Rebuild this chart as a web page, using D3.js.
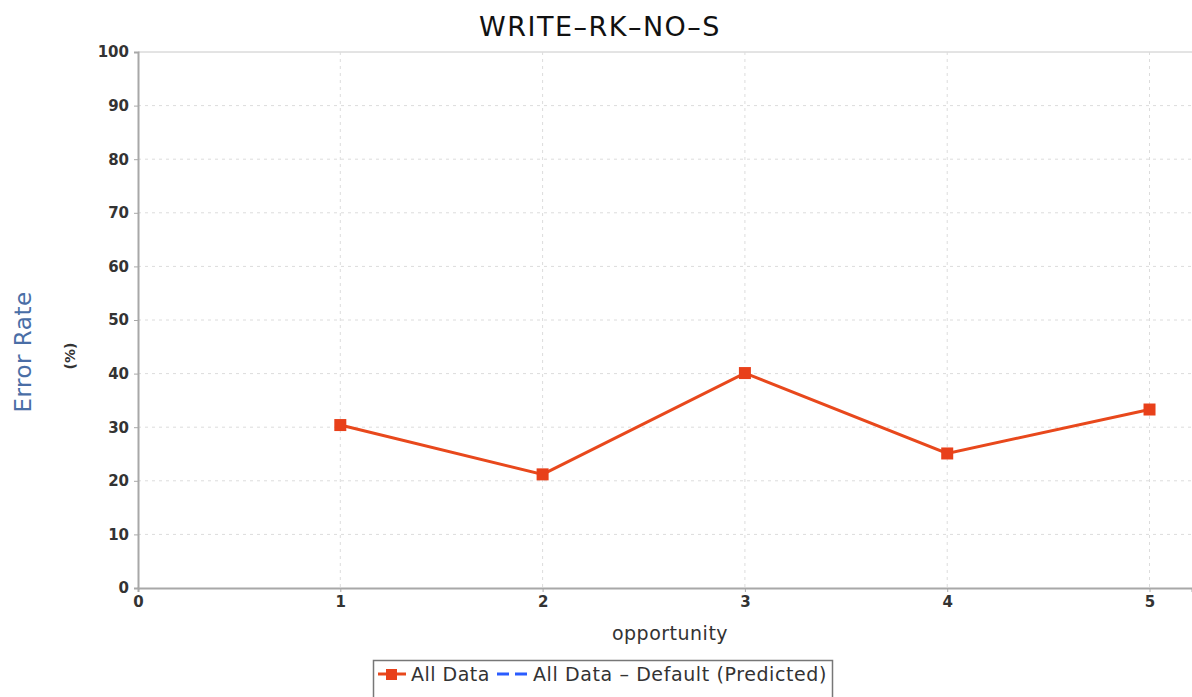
<!DOCTYPE html>
<html>
<head>
<meta charset="utf-8">
<script src="https://cdn.jsdelivr.net/npm/d3@7"></script>
<style>
	body { margin: 0; background: #fff; }
	svg { display: block; }
</style>
</head>
<body>
<svg id="chart" width="1192" height="697"></svg>
<script>
// opportunity -> error rate (%)
const opportunities = [1, 2, 3, 4, 5];
const errorRates = [30.4, 21.2, 40.1, 25.1, 33.3];
const xTicks = [0, 1, 2, 3, 4, 5];
const yTicks = [0, 10, 20, 30, 40, 50, 60, 70, 80, 90, 100];

const width = 1192;
const height = 697;
const plotLeft = 138, plotTop = 52, plotRight = 1192, plotBottom = 588;

const svg = d3.select('#chart');

let x = d3.scaleLinear()
	.domain([0, 5.21])
	.range([plotLeft, plotRight]);

let y = d3.scaleLinear()
	.domain([0, 100])
	.range([plotBottom, plotTop]);

// grid
svg.append('g')
	.selectAll('line')
	.data(yTicks.slice(1))
	.join('line')
	.attr('x1', plotLeft).attr('x2', plotRight)
	.attr('y1', d => y(d)).attr('y2', d => y(d))
	.attr('stroke', d => d === 100 ? '#c8c8c8' : '#dcdcdc')
	.attr('stroke-dasharray', d => d === 100 ? null : '3,4');

svg.append('g')
	.selectAll('line')
	.data(xTicks.slice(1))
	.join('line')
	.attr('x1', d => x(d)).attr('x2', d => x(d))
	.attr('y1', plotTop).attr('y2', plotBottom)
	.attr('stroke', '#dcdcdc')
	.attr('stroke-dasharray', '3,4');

// axes
let yAxis = svg.append('g')
	.attr('transform', `translate(${plotLeft},0)`)
	.call(d3.axisLeft(y).tickValues(yTicks).tickFormat(d3.format('d')).tickSize(4).tickPadding(5));

let xAxis = svg.append('g')
	.attr('transform', `translate(0,${plotBottom})`)
	.call(d3.axisBottom(x).tickValues(xTicks).tickFormat(d3.format('d')).tickSize(4).tickPadding(4));

[xAxis, yAxis].forEach(a => {
	a.select('.domain').attr('stroke', '#a8a8a8').attr('stroke-width', 2);
	a.selectAll('.tick line').attr('stroke', '#a8a8a8');
	a.selectAll('.tick text')
		.attr('fill', '#333')
		.attr('font-family', 'DejaVu Sans')
		.attr('font-weight', 'bold')
		.attr('font-size', 15);
});

// series
let line = d3.line()
	.x((d, i) => x(opportunities[i]))
	.y(d => y(d));

svg.append('path')
	.datum(errorRates)
	.attr('d', line)
	.attr('fill', 'none')
	.attr('stroke', '#e8481c')
	.attr('stroke-width', 3);

svg.append('g')
	.selectAll('rect')
	.data(errorRates)
	.join('rect')
	.attr('x', (d, i) => x(opportunities[i]) - 6)
	.attr('y', d => y(d) - 6)
	.attr('width', 12)
	.attr('height', 12)
	.attr('fill', '#e8401a');

// titles
svg.append('text')
	.attr('x', 600).attr('y', 36)
	.attr('text-anchor', 'middle')
	.attr('font-family', 'DejaVu Sans')
	.attr('font-size', 27)
	.attr('letter-spacing', 1.5)
	.attr('fill', '#111')
	.text('WRITE–RK–NO–S');

svg.append('text')
	.attr('transform', 'translate(31,352) rotate(-90)')
	.attr('text-anchor', 'middle')
	.attr('font-family', 'DejaVu Sans')
	.attr('font-size', 23)
	.attr('letter-spacing', 0.5)
	.attr('fill', '#4a6ea6')
	.text('Error Rate');

svg.append('text')
	.attr('transform', 'translate(75,356) rotate(-90)')
	.attr('text-anchor', 'middle')
	.attr('font-family', 'DejaVu Sans')
	.attr('font-weight', 'bold')
	.attr('font-size', 14)
	.attr('fill', '#333')
	.text('(%)');

svg.append('text')
	.attr('x', 670).attr('y', 640)
	.attr('text-anchor', 'middle')
	.attr('font-family', 'DejaVu Sans')
	.attr('font-size', 19)
	.attr('letter-spacing', 0.5)
	.attr('fill', '#333')
	.text('opportunity');

// legend
let legend = svg.append('g');
legend.append('rect')
	.attr('x', 373.5).attr('y', 660.5)
	.attr('width', 459).attr('height', 50)
	.attr('fill', '#fff')
	.attr('stroke', '#777')
	.attr('stroke-width', 1.5);

legend.append('line')
	.attr('x1', 378).attr('x2', 406)
	.attr('y1', 674).attr('y2', 674)
	.attr('stroke', '#e8481c').attr('stroke-width', 3);
legend.append('rect')
	.attr('x', 386).attr('y', 669).attr('width', 11).attr('height', 11)
	.attr('fill', '#e8401a');
legend.append('text')
	.attr('x', 411).attr('y', 681)
	.attr('font-family', 'DejaVu Sans').attr('font-size', 19).attr('letter-spacing', 0.5).attr('fill', '#333')
	.text('All Data');
legend.append('line')
	.attr('x1', 497).attr('x2', 528)
	.attr('y1', 674).attr('y2', 674)
	.attr('stroke', '#2a5cff').attr('stroke-width', 3)
	.attr('stroke-dasharray', '12,6');
legend.append('text')
	.attr('x', 533).attr('y', 681)
	.attr('font-family', 'DejaVu Sans').attr('font-size', 19).attr('letter-spacing', 0.6).attr('fill', '#333')
	.text('All Data – Default (Predicted)');
</script>
</body>
</html>
